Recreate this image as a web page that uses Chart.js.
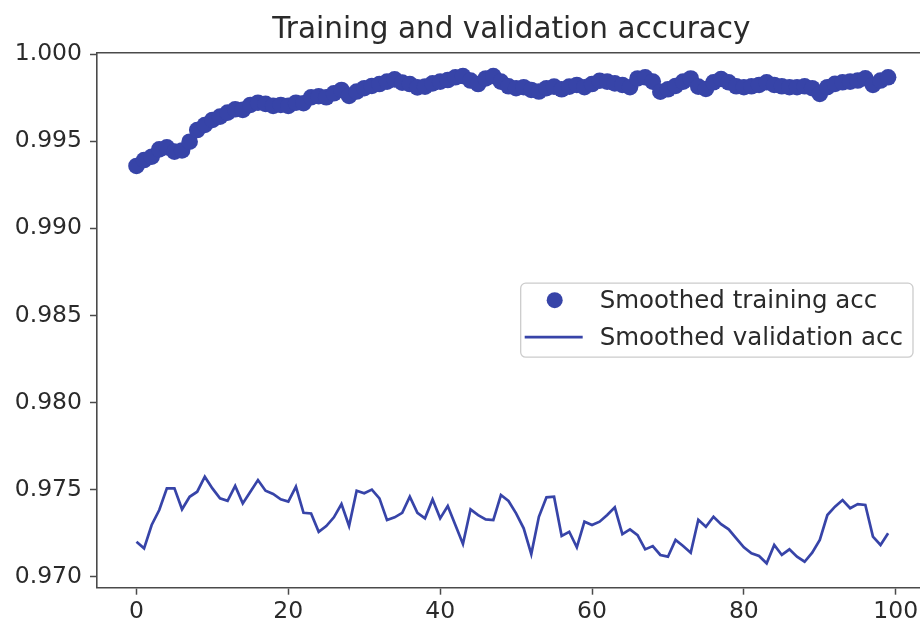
<!DOCTYPE html>
<html>
<head>
<meta charset="utf-8">
<script src="https://cdn.jsdelivr.net/npm/chart.js@4.4.1/dist/chart.umd.min.js"></script>
<style>
  html, body { margin: 0; padding: 0; background: #fff; overflow: hidden; }
  canvas { display: block; }
</style>
</head>
<body>
<canvas id="myChart" width="934" height="626"></canvas>
<script>
// epochs 0..99
const epochs = Array.from({ length: 100 }, (_, i) => i);

const trainAcc = [
  0.99358, 0.99392, 0.99411, 0.99453, 0.99465, 0.99440, 0.99447, 0.99497, 0.99564, 0.99593,
  0.99622, 0.99641, 0.99664, 0.99683, 0.99680, 0.99708, 0.99721, 0.99714, 0.99703, 0.99708,
  0.99703, 0.99721, 0.99718, 0.99752, 0.99758, 0.99752, 0.99775, 0.99794, 0.99760, 0.99785,
  0.99804, 0.99817, 0.99828, 0.99842, 0.99855, 0.99836, 0.99828, 0.99809, 0.99813, 0.99832,
  0.99842, 0.99851, 0.99867, 0.99874, 0.99848, 0.99828, 0.99860, 0.99874, 0.99842, 0.99815,
  0.99804, 0.99810, 0.99794, 0.99785, 0.99804, 0.99813, 0.99798, 0.99813, 0.99823, 0.99810,
  0.99828, 0.99847, 0.99842, 0.99832, 0.99823, 0.99810, 0.99860, 0.99867, 0.99842, 0.99784,
  0.99798, 0.99817, 0.99842, 0.99860, 0.99813, 0.99800, 0.99838, 0.99857, 0.99838, 0.99815,
  0.99810, 0.99815, 0.99823, 0.99838, 0.99823, 0.99815, 0.99810, 0.99810, 0.99815, 0.99804,
  0.99771, 0.99810, 0.99829, 0.99838, 0.99842, 0.99848, 0.99861, 0.99823, 0.99848, 0.99867
];

const valAcc = [
  0.97201, 0.97163, 0.97297, 0.97383, 0.97507, 0.97507, 0.97387, 0.97459, 0.97488, 0.97574,
  0.97507, 0.97450, 0.97436, 0.97521, 0.97421, 0.97488, 0.97555, 0.97494, 0.97475, 0.97444,
  0.97431, 0.97517, 0.97367, 0.97363, 0.97258, 0.97291, 0.97341, 0.97417, 0.97291, 0.97494,
  0.97479, 0.97500, 0.97450, 0.97325, 0.97341, 0.97367, 0.97459, 0.97367, 0.97335, 0.97444,
  0.97335, 0.97406, 0.97297, 0.97188, 0.97387, 0.97354, 0.97329, 0.97325, 0.97469, 0.97435,
  0.97364, 0.97278, 0.97130, 0.97344, 0.97456, 0.97459, 0.97234, 0.97258, 0.97169, 0.97316,
  0.97297, 0.97316, 0.97354, 0.97398, 0.97245, 0.97272, 0.97239, 0.97157, 0.97176, 0.97125,
  0.97115, 0.97211, 0.97176, 0.97138, 0.97327, 0.97287, 0.97344, 0.97302, 0.97272, 0.97220,
  0.97169, 0.97134, 0.97119, 0.97077, 0.97182, 0.97125, 0.97157, 0.97115, 0.97086, 0.97138,
  0.97211, 0.97354, 0.97402, 0.97440, 0.97393, 0.97417, 0.97412, 0.97230, 0.97182, 0.97249
];

const xTicks = [0, 20, 40, 60, 80, 100];
const yTicks = [0.970, 0.975, 0.980, 0.985, 0.990, 0.995, 1.000];

const blue = '#3744a8';
const textColor = '#2a2a2a';
const axisColor = '#4a4a4a';
const fontName = 'DejaVu Sans';

const ctx = document.getElementById('myChart');

// top edge of the axes box
const topFrame = {
  id: 'topFrame',
  afterDraw(chart) {
    const c = chart.ctx;
    const area = chart.chartArea;
    c.save();
    c.strokeStyle = axisColor;
    c.lineWidth = 1.6;
    c.beginPath();
    c.moveTo(area.left, area.top);
    c.lineTo(area.right, area.top);
    c.stroke();
    c.restore();
  }
};

// legend box, center right inside the plot
const legendBox = {
  id: 'legendBox',
  afterDraw(chart) {
    const c = chart.ctx;
    const area = chart.chartArea;
    const sets = chart.data.datasets;
    c.save();
    c.font = '24.5px "' + fontName + '"';
    let maxW = 0;
    sets.forEach(ds => { maxW = Math.max(maxW, c.measureText(ds.label).width); });
    const boxW = 79 + maxW + 10;
    const boxH = 74;
    const left = area.right - 12.7 - boxW;
    const top = (area.top + area.bottom) / 2 - boxH / 2;

    c.fillStyle = 'rgba(255,255,255,0.8)';
    c.strokeStyle = '#cccccc';
    c.lineWidth = 1.3;
    c.beginPath();
    c.roundRect(left, top, boxW, boxH, 5);
    c.fill();
    c.stroke();

    sets.forEach((ds, i) => {
      const y = top + 17 + i * 37;
      if (ds.showLine === false) {
        c.fillStyle = ds.backgroundColor;
        c.beginPath();
        c.arc(left + 34, y, 8, 0, Math.PI * 2);
        c.fill();
      } else {
        c.strokeStyle = ds.borderColor;
        c.lineWidth = ds.borderWidth;
        c.beginPath();
        c.moveTo(left + 4, y);
        c.lineTo(left + 62, y);
        c.stroke();
      }
      c.fillStyle = textColor;
      c.textBaseline = 'middle';
      c.fillText(ds.label, left + 79, y + 1);
    });
    c.restore();
  }
};

new Chart(ctx, {
  type: 'line',
  data: {
    datasets: [
      {
        label: 'Smoothed training acc',
        data: epochs.map((e, i) => ({ x: e, y: trainAcc[i] })),
        showLine: false,
        pointRadius: 8.3,
        pointBorderWidth: 0,
        backgroundColor: blue,
        borderColor: blue
      },
      {
        label: 'Smoothed validation acc',
        data: epochs.map((e, i) => ({ x: e, y: valAcc[i] })),
        borderColor: blue,
        borderWidth: 2.7,
        pointRadius: 0,
        tension: 0,
        fill: false
      }
    ]
  },
  options: {
    responsive: false,
    animation: false,
    layout: { padding: { left: 0, right: 0, top: 0, bottom: 0 } },
    plugins: {
      legend: { display: false },
      tooltip: { enabled: false },
      title: {
        display: true,
        fullSize: false,
        text: 'Training and validation accuracy',
        color: textColor,
        font: { family: fontName, size: 29.5, weight: 'normal' },
        padding: { top: 13, bottom: 4.3 }
      }
    },
    scales: {
      x: {
        type: 'linear',
        min: -5.2,
        max: 103.95,
        afterBuildTicks: scale => { scale.ticks = xTicks.map(v => ({ value: v })); },
        afterFit: scale => {
          scale.height = 38.3;
          scale.paddingLeft = 0;
          scale.paddingRight = 0;
        },
        grid: { drawOnChartArea: false, drawTicks: true, tickLength: 7, tickColor: axisColor, tickWidth: 1.5 },
        border: { display: true, color: axisColor, width: 1.6 },
        ticks: { color: textColor, padding: 3, font: { family: fontName, size: 23.5 }, maxRotation: 0 }
      },
      y: {
        min: 0.96937,
        max: 1.00008,
        afterBuildTicks: scale => { scale.ticks = yTicks.map(v => ({ value: v })); },
        afterFit: scale => { scale.width = 97; },
        grid: { drawOnChartArea: false, drawTicks: true, tickLength: 7, tickColor: axisColor, tickWidth: 1.5 },
        border: { display: true, color: axisColor, width: 1.6 },
        ticks: {
          color: textColor,
          padding: 8,
          font: { family: fontName, size: 23.5 },
          callback: v => v.toFixed(3)
        }
      }
    }
  },
  plugins: [topFrame, legendBox]
});
</script>
</body>
</html>
